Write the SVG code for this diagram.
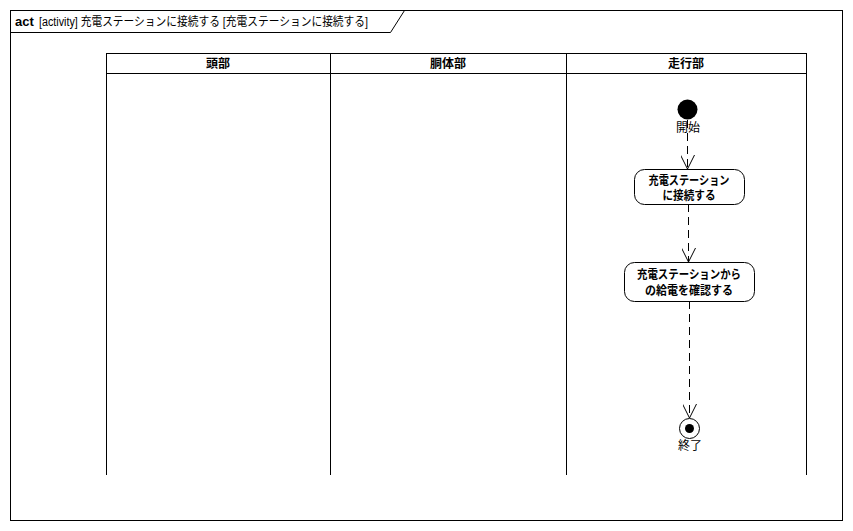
<svg xmlns="http://www.w3.org/2000/svg" width="853" height="531" viewBox="0 0 853 531">
<defs>
<style>
.frame{fill:#fff;stroke:#000;stroke-width:1}
.ln{fill:none;stroke:#000;stroke-width:1}
.t{font-family:"Liberation Sans","Noto Sans CJK JP",sans-serif;font-size:12px;fill:#000}
.b{font-weight:bold}
.c{text-anchor:middle}
.act{fill:#fff;stroke:#000;stroke-width:1}
.flow{fill:none;stroke:#000;stroke-width:1;stroke-dasharray:8 5}
</style>
<marker id="open" markerWidth="16" markerHeight="14" refX="14" refY="7" orient="auto" markerUnits="userSpaceOnUse">
<path d="M0,0 L14,7 L0,14" fill="none" stroke="#000" stroke-width="1"/>
</marker>
</defs>
<rect width="853" height="531" fill="#fff"/>
<g id="frame">
<rect class="frame" x="10.5" y="10.5" width="832" height="510"/>
<path class="ln" d="M10.5,32.5 H390.5 L404.5,10.5"/>
<text class="t b" x="15" y="26" style="font-size:13px">act</text>
<text class="t" x="39" y="26" textLength="329" lengthAdjust="spacingAndGlyphs" style="font-size:12px">[activity] 充電ステーションに接続する [充電ステーションに接続する]</text>
</g>
<g id="lanes">
<rect class="ln" x="106.5" y="53.5" width="700" height="20"/>
<path class="ln" d="M106.5,53.5 V475 M330.5,53.5 V475 M566.5,53.5 V475 M806.5,53.5 V475"/>
<text class="t b c" x="218" y="68">頭部</text>
<text class="t b c" x="448" y="68">胴体部</text>
<text class="t b c" x="686" y="68">走行部</text>
</g>
<g id="connectors">
<path class="flow" d="M687.5,120 V169" marker-end="url(#open)"/>
<path class="flow" d="M688.5,204 V262" marker-end="url(#open)"/>
<path class="flow" d="M689.5,301 V418" marker-end="url(#open)"/>
</g>
<g id="start">
<circle cx="687.5" cy="109.5" r="10" fill="#000"/>
<text class="t c" x="688" y="132" textLength="24" lengthAdjust="spacingAndGlyphs">開始</text>
</g>
<g id="connect">
<rect class="act" x="634.5" y="169.5" width="110" height="35" rx="10"/>
<text class="t b c" x="689" y="185" textLength="81" lengthAdjust="spacingAndGlyphs">充電ステーション</text>
<text class="t b c" x="689" y="200" textLength="53" lengthAdjust="spacingAndGlyphs">に接続する</text>
</g>
<g id="confirm">
<rect class="act" x="624.5" y="262.5" width="130" height="39" rx="10"/>
<text class="t b c" x="689" y="279" textLength="104" lengthAdjust="spacingAndGlyphs">充電ステーションから</text>
<text class="t b c" x="689" y="295" textLength="88" lengthAdjust="spacingAndGlyphs">の給電を確認する</text>
</g>
<g id="end">
<circle cx="689.5" cy="428.5" r="10" fill="#fff" stroke="#000"/>
<circle cx="689.5" cy="428.5" r="4.5" fill="#000"/>
<text class="t c" x="690" y="450" textLength="24" lengthAdjust="spacingAndGlyphs">終了</text>
</g>
</svg>
